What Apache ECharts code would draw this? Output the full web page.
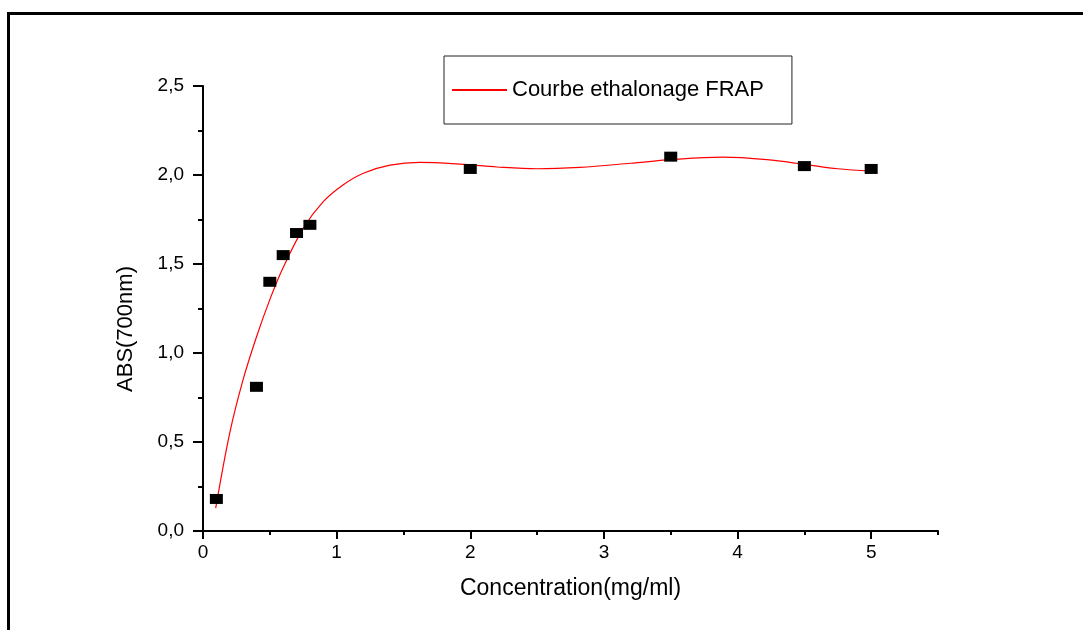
<!DOCTYPE html>
<html>
<head>
<meta charset="utf-8">
<script src="https://cdn.jsdelivr.net/npm/echarts@6/dist/echarts.min.js"></script>
<style>
  html, body { margin: 0; padding: 0; background: #fff; }
  #chart { width: 1083px; height: 630px; }
</style>
</head>
<body>
<div id="chart"></div>
<script>
// measured points
const concentration = [0.1, 0.4, 0.5, 0.6, 0.7, 0.8, 2, 3.5, 4.5, 5];
const absorbance = [0.18, 0.81, 1.40, 1.55, 1.674, 1.72, 2.034, 2.103, 2.05, 2.034];

// fitted calibration curve
const fitX = [0.095, 0.2, 0.3, 0.4, 0.5, 0.6, 0.75, 0.9, 1.05, 1.2, 1.4, 1.62, 1.95, 2.2, 2.5, 2.82, 3.2, 3.5, 3.89, 4.22, 4.5, 4.75, 5.0];
const fitY = [0.128, 0.55, 0.85, 1.09, 1.30, 1.48, 1.70, 1.85, 1.945, 2.01, 2.055, 2.071, 2.06, 2.045, 2.035, 2.043, 2.066, 2.086, 2.10, 2.086, 2.06, 2.035, 2.022];

const xMajor = [0, 1, 2, 3, 4, 5];
const xMinor = [0.5, 1.5, 2.5, 3.5, 4.5, 5.5];

const FONT = "'Liberation Sans', Arial, sans-serif";

const chart = echarts.init(document.getElementById("chart"));

const option = {
  backgroundColor: "#fff",
  animation: false,
  textStyle: { fontFamily: FONT, color: "#000" },
  grid: { left: 203, right: 145, top: 86, bottom: 99 },
  legend: {
    data: ["Courbe ethalonage FRAP"],
    left: 444,
    top: 56,
    orient: "horizontal",
    padding: [23, 28, 23, 7],
    itemWidth: 55,
    itemHeight: 2,
    borderColor: "#222",
    borderWidth: 1,
    textStyle: { fontFamily: FONT, fontSize: 22, color: "#000" },
  },
  xAxis: [
    {
      type: "value",
      min: 0,
      max: 5.5,
      interval: 1,
      name: "Concentration(mg/ml)",
      nameLocation: "middle",
      nameGap: 46,
      nameTextStyle: { fontFamily: FONT, fontSize: 23, color: "#000" },
      axisLine: { lineStyle: { color: "#000", width: 2 } },
      axisTick: { customValues: xMajor, length: 8, lineStyle: { color: "#000", width: 2 } },
      axisLabel: {
        customValues: xMajor,
        margin: 12,
        fontFamily: FONT,
        fontSize: 19,
        color: "#000",
        formatter: (v) => String(v),
      },
      splitLine: { show: false },
    },
    {
      type: "value",
      min: 0,
      max: 5.5,
      position: "bottom",
      axisLine: { show: false },
      axisTick: { customValues: xMinor, length: 4, lineStyle: { color: "#000", width: 2 } },
      axisLabel: { show: false },
      splitLine: { show: false },
    },
  ],
  yAxis: {
    type: "value",
    min: 0,
    max: 2.5,
    interval: 0.5,
    axisLine: { show: true, lineStyle: { color: "#000", width: 2 } },
    axisTick: { length: 10, lineStyle: { color: "#000", width: 2 } },
    minorTick: { show: true, splitNumber: 2, length: 5, lineStyle: { color: "#000", width: 2 } },
    axisLabel: {
      margin: 19,
      fontFamily: FONT,
      fontSize: 19,
      color: "#000",
      formatter: (v) => v.toFixed(1).replace(".", ","),
    },
    splitLine: { show: false },
  },
  graphic: [
    { type: "rect", shape: { x: 7, y: 12, width: 1076, height: 3 }, style: { fill: "#000" } },
    { type: "rect", shape: { x: 7, y: 12, width: 3, height: 618 }, style: { fill: "#000" } },
    {
      type: "text",
      x: 126,
      y: 329,
      rotation: Math.PI / 2,
      style: {
        text: "ABS(700nm)",
        fontFamily: FONT,
        fontSize: 22,
        fill: "#000",
        align: "center",
        verticalAlign: "middle",
      },
    },
  ],
  series: [
    {
      name: "Courbe ethalonage FRAP",
      type: "line",
      data: fitX.map((x, i) => [x, fitY[i]]),
      smooth: 0.35,
      symbol: "none",
      lineStyle: { color: "#ff0000", width: 1.2 },
      itemStyle: { color: "#ff0000" },
      z: 2,
    },
    {
      name: "points",
      type: "scatter",
      data: concentration.map((x, i) => [x, absorbance[i]]),
      symbol: "rect",
      symbolSize: [13, 10],
      itemStyle: { color: "#000", opacity: 1 },
      z: 3,
    },
  ],
};

chart.setOption(option);
</script>
</body>
</html>
